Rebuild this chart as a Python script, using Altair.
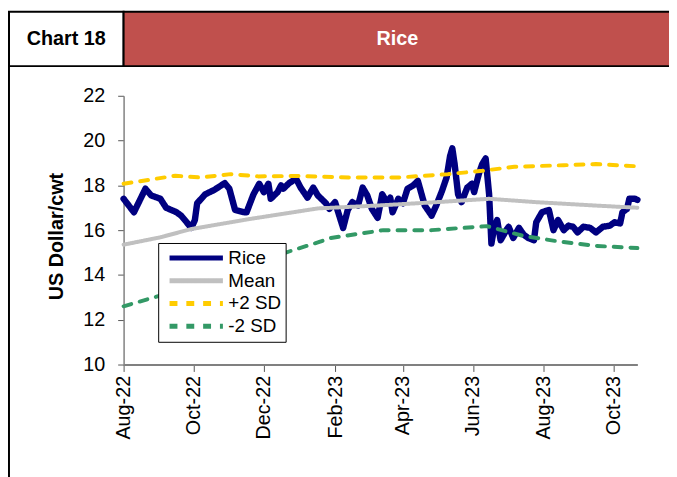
import altair as alt
import pandas as pd

FONT = "Liberation Sans, Arial, sans-serif"

rice_dates = [
    "2022-08-01", "2022-08-10", "2022-08-20", "2022-08-25", "2022-09-02", "2022-09-07",
    "2022-09-16", "2022-09-20", "2022-09-29", "2022-10-02", "2022-10-04", "2022-10-11",
    "2022-10-19", "2022-10-28", "2022-11-01", "2022-11-06", "2022-11-14", "2022-11-16",
    "2022-11-22", "2022-11-27", "2022-12-01", "2022-12-05", "2022-12-07", "2022-12-13",
    "2022-12-16", "2022-12-18", "2022-12-23", "2022-12-29", "2023-01-02", "2023-01-08",
    "2023-01-13", "2023-01-17", "2023-01-24", "2023-01-27", "2023-02-01", "2023-02-04",
    "2023-02-08", "2023-02-12", "2023-02-16", "2023-02-21", "2023-02-25", "2023-03-01",
    "2023-03-05", "2023-03-10", "2023-03-14", "2023-03-18", "2023-03-21", "2023-03-23",
    "2023-03-28", "2023-04-01", "2023-04-05", "2023-04-10", "2023-04-14", "2023-04-20",
    "2023-04-26", "2023-04-30", "2023-05-05", "2023-05-09", "2023-05-12", "2023-05-14",
    "2023-05-16", "2023-05-19", "2023-05-22", "2023-05-27", "2023-05-31", "2023-06-02",
    "2023-06-06", "2023-06-09", "2023-06-12", "2023-06-15", "2023-06-17", "2023-06-19",
    "2023-06-22", "2023-06-25", "2023-06-30", "2023-07-02", "2023-07-06", "2023-07-11",
    "2023-07-15", "2023-07-19", "2023-07-24", "2023-07-26", "2023-07-31", "2023-08-06",
    "2023-08-10", "2023-08-14", "2023-08-19", "2023-08-23", "2023-08-27", "2023-08-31",
    "2023-09-05", "2023-09-11", "2023-09-16", "2023-09-22", "2023-09-28", "2023-10-02",
    "2023-10-07", "2023-10-09", "2023-10-13", "2023-10-15", "2023-10-20", "2023-10-22",
]
rice_values = [
    17.4, 16.8, 17.85, 17.55, 17.4, 17.0,
    16.8, 16.65, 16.1, 16.45, 17.2, 17.6,
    17.8, 18.1, 17.85, 16.9, 16.8, 16.8,
    17.6, 18.07, 17.7, 18.07, 17.4, 17.7,
    18.0, 17.85, 18.1, 18.3, 17.9, 17.45,
    17.9, 17.55, 17.2, 16.95, 17.25, 16.75,
    16.1, 16.9, 17.25, 17.1, 17.9, 17.55,
    16.95, 16.55, 17.6, 17.25, 17.45, 16.8,
    17.4, 17.2, 17.85, 18.0, 18.2, 17.1,
    16.65, 17.1, 17.75, 18.35, 19.3, 19.65,
    18.95, 17.6, 17.25, 17.9, 18.07, 17.7,
    18.5, 18.95, 19.2, 17.6, 15.4, 16.0,
    16.45, 15.55, 16.0, 16.15, 15.65, 16.1,
    15.8, 15.65, 15.55, 16.35, 16.8, 16.9,
    16.0, 16.45, 16.0, 16.2, 16.15, 15.9,
    16.15, 16.1, 15.9, 16.15, 16.2, 16.35,
    16.3, 16.8, 16.95, 17.4, 17.4, 17.35,
]

mean_dates = ["2022-08-01", "2022-09-02", "2022-09-29", "2022-11-19", "2023-01-17", "2023-03-10",
              "2023-04-30", "2023-06-15", "2023-07-26", "2023-09-15", "2023-10-22"]
mean_values = [15.35, 15.68, 16.05, 16.5, 16.97, 17.1, 17.25, 17.4, 17.25, 17.1, 17.0]

plus_dates = ["2022-08-01", "2022-09-15", "2022-10-07", "2022-11-02", "2022-11-26", "2023-01-01",
              "2023-02-15", "2023-03-28", "2023-05-10", "2023-06-09", "2023-07-07", "2023-08-19",
              "2023-09-16", "2023-10-22"]
plus_values = [18.07, 18.43, 18.35, 18.5, 18.4, 18.42, 18.35, 18.35, 18.5, 18.65, 18.83, 18.9,
               18.95, 18.85]

minus_dates = ["2022-08-01", "2022-08-31", "2022-10-06", "2022-11-19", "2022-12-26", "2023-01-17",
               "2023-01-28", "2023-03-15", "2023-04-26", "2023-06-13", "2023-07-14", "2023-08-14",
               "2023-09-15", "2023-10-22"]
minus_values = [12.6, 13.05, 13.7, 14.45, 15.1, 15.45, 15.65, 16.0, 16.0, 16.18, 15.75, 15.5,
                15.3, 15.2]

series_order = ["Rice", "Mean", "+2 SD", "-2 SD"]
series_colors = ["#000080", "#C0C0C0", "#FFCC00", "#339966"]
series_dashes = [[1, 0], [1, 0], [8, 9], [8, 9]]
series_widths = [6.5, 4, 4, 4]

x_ticks = [(2022, 8), (2022, 10), (2022, 12), (2023, 2), (2023, 4), (2023, 6), (2023, 8), (2023, 10)]

frames = []
for name, d, v in [("Rice", rice_dates, rice_values), ("Mean", mean_dates, mean_values),
                   ("+2 SD", plus_dates, plus_values), ("-2 SD", minus_dates, minus_values)]:
    frames.append(pd.DataFrame({"date": d, "value": v, "series": name}))
df = pd.concat(frames, ignore_index=True)

legend = alt.Legend(
    title=None, orient="none", legendX=35, legendY=149,
    strokeColor="black", fillColor="white", padding=4,
    labelFontSize=19, labelFont=FONT, labelColor="black",
    symbolType="stroke", symbolSize=2916, symbolStrokeWidth=5, symbolOffset=5,
    clipHeight=22.5, labelOffset=3, rowPadding=0,
)

x_enc = alt.X(
    "date:T", title=None,
    scale=alt.Scale(type="utc", domain=[alt.DateTime(year=2022, month=8, date=1, utc=True),
                                        alt.DateTime(year=2023, month=10, date=22, utc=True)]),
    axis=alt.Axis(values=[alt.DateTime(year=y, month=m, date=1, utc=True) for y, m in x_ticks],
                  labelExpr="utcFormat(datum.value, '%b-%y')", labelAngle=-90, labelFontSize=20,
                  labelFont=FONT, labelColor="black", tickSize=7, tickColor="#555",
                  domainColor="#808080", domainWidth=2, labelPadding=4, grid=False),
)
y_enc = alt.Y(
    "value:Q", title="US Dollar/cwt",
    scale=alt.Scale(domain=[10, 22], nice=False, zero=False),
    axis=alt.Axis(values=[10, 12, 14, 16, 18, 20, 22], labelFontSize=20, labelFont=FONT,
                  labelColor="black", tickSize=6, tickColor="#555", domainColor="#808080",
                  domainWidth=1.5, labelPadding=13, grid=False,
                  titleFont=FONT, titleFontSize=20, titleFontWeight="bold", titleColor="black",
                  titleX=-68, titleY=142, titleBaseline="middle"),
)
color_enc = alt.Color("series:N", scale=alt.Scale(domain=series_order, range=series_colors),
                      legend=legend, sort=series_order)
dash_enc = alt.StrokeDash("series:N", scale=alt.Scale(domain=series_order, range=series_dashes),
                          legend=legend, sort=series_order)

layers = []
for name, w in zip(series_order, series_widths):
    layers.append(
        alt.Chart(df).transform_filter(alt.datum.series == name)
        .mark_line(strokeWidth=w, strokeCap="round", strokeJoin="round")
        .encode(x=x_enc, y=y_enc, color=color_enc, strokeDash=dash_enc)
    )

deco = pd.DataFrame({"k": [0]})
left_box = alt.Chart(deco).mark_rect(fill="white", stroke="black", strokeWidth=2).encode(
    x=alt.value(-116), x2=alt.value(0), y=alt.value(-85), y2=alt.value(-30))
red_box = alt.Chart(deco).mark_rect(fill="#C0504D", stroke="black", strokeWidth=2).encode(
    x=alt.value(0), x2=alt.value(560), y=alt.value(-85), y2=alt.value(-30))
frame_left = alt.Chart(deco).mark_rule(color="black", strokeWidth=2).encode(
    x=alt.value(-116), y=alt.value(-85), y2=alt.value(400))
t1 = alt.Chart(deco).mark_text(text="Chart 18", font=FONT, fontSize=20, fontWeight="bold",
                               color="black", align="center", baseline="middle").encode(
    x=alt.value(-58), y=alt.value(-57))
t2 = alt.Chart(deco).mark_text(text="Rice", font=FONT, fontSize=20, fontWeight="bold",
                               color="white", align="center", baseline="middle").encode(
    x=alt.value(277), y=alt.value(-57))

chart = alt.layer(left_box, red_box, frame_left, t1, t2, *layers).properties(
    width=520, height=272,
    padding={"left": 117, "top": 86, "right": 32, "bottom": 111},
    autosize=alt.AutoSizeParams(type="none"),
    background="white",
).configure_view(stroke=None)

chart.save("out.html", embed_options={"renderer": "svg", "actions": False})
